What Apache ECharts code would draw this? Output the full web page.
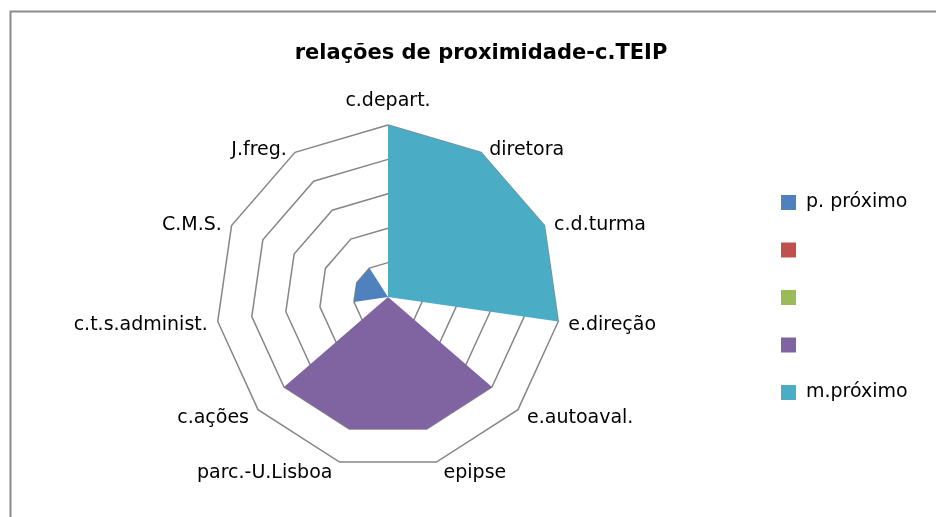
<!DOCTYPE html>
<html>
<head>
<meta charset="utf-8">
<script src="https://cdn.jsdelivr.net/npm/echarts@6/dist/echarts.min.js"></script>
<style>
  html, body { margin: 0; padding: 0; background: #fff; }
  #main { width: 936px; height: 517px; }
</style>
</head>
<body>
<div id="main"></div>
<script>
// categories, clockwise from the top
const categories = ['c.depart.', 'diretora', 'c.d.turma', 'e.direção', 'e.autoaval.', 'epipse',
  'parc.-U.Lisboa', 'c.ações', 'c.t.s.administ.', 'C.M.S.', 'J.freg.'];
const seriesNames = ['p. próximo', ' ', '  ', '   ', 'm.próximo'];
const pProximo = [0, 0, 0, 0, 0, 0, 0, 0, 1, 1, 1];
const serie2 = [0, 0, 0, 0, 0, 0, 0, 0, 0, 0, 0];
const serie3 = [0, 0, 0, 0, 0, 0, 0, 0, 0, 0, 0];
const serie4 = [0, 0, 0, 0, 4, 4, 4, 4, 0, 0, 0];
const mProximo = [5, 5, 5, 5, 0, 0, 0, 0, 0, 0, 0];
const maxValue = 5;

const colors = ['#4F81BD', '#C0504D', '#9BBB59', '#8064A2', '#4BACC6'];

// echarts places indicators counter-clockwise, so reorder to run clockwise
const order = [0];
for (let i = categories.length - 1; i > 0; i--) order.push(i);
const reorder = (arr) => order.map((i) => arr[i]);

const allData = [pProximo, serie2, serie3, serie4, mProximo];

// excel-like label placement: lower labels sit a bit further down
const rich = {};
categories.forEach((c, i) => {
  const ang = Math.PI / 2 - (i * 2 * Math.PI) / categories.length;
  const s = Math.sin(ang);
  let pad;
  if (i === 0) pad = [0, 0, 10, 0];
  else if (s < 0) pad = [Math.round(2 * (3 - 4 * s)), 0, 0, 0];
  else pad = [3, 0, 0, 0];
  rich['l' + i] = {
    fontFamily: 'DejaVu Sans',
    fontSize: 19,
    color: '#000',
    padding: pad,
  };
});

const myChart = echarts.init(document.getElementById('main'));
myChart.setOption({
  animation: false,
  color: colors,
  title: {
    text: 'relações de proximidade-c.TEIP',
    left: 476,
    textAlign: 'center',
    top: 38,
    textStyle: {
      fontFamily: 'DejaVu Sans',
      fontWeight: 'bold',
      fontSize: 21,
      color: '#000',
    },
  },
  legend: {
    orient: 'vertical',
    left: 776,
    top: 188,
    itemWidth: 15,
    itemHeight: 15,
    itemGap: 28.5,
    icon: 'rect',
    data: seriesNames,
    textStyle: {
      fontFamily: 'DejaVu Sans',
      fontSize: 19,
      lineHeight: 16,
      padding: [0, 0, 0, 5],
      color: '#000',
    },
  },
  radar: {
    center: [388, 297],
    radius: 172,
    startAngle: 90,
    splitNumber: 5,
    shape: 'polygon',
    nameGap: 4,
    axisName: {
      color: '#000',
      fontFamily: 'DejaVu Sans',
      fontSize: 19,
      padding: [0, 6],
      formatter: (name) => '{l' + categories.indexOf(name) + '|' + name + '}',
      rich: rich,
    },
    splitLine: {
      lineStyle: { color: '#868686', width: 1.5 },
    },
    splitArea: { show: false },
    axisLine: { show: false },
    indicator: reorder(categories).map((name) => ({ name: name, max: maxValue, min: 0 })),
  },
  series: [
    {
      type: 'radar',
      symbol: 'none',
      silent: true,
      data: allData.map((d, i) => ({
        name: seriesNames[i],
        value: reorder(d),
        lineStyle: { width: 0 },
        areaStyle: { color: colors[i], opacity: 1 },
      })),
    },
  ],
  graphic: [
    {
      type: 'rect',
      shape: { x: 10.5, y: 11.5, width: 940, height: 520 },
      style: { fill: 'none', stroke: '#8c8c8c', lineWidth: 2 },
      silent: true,
    },
  ],
});
</script>
</body>
</html>
